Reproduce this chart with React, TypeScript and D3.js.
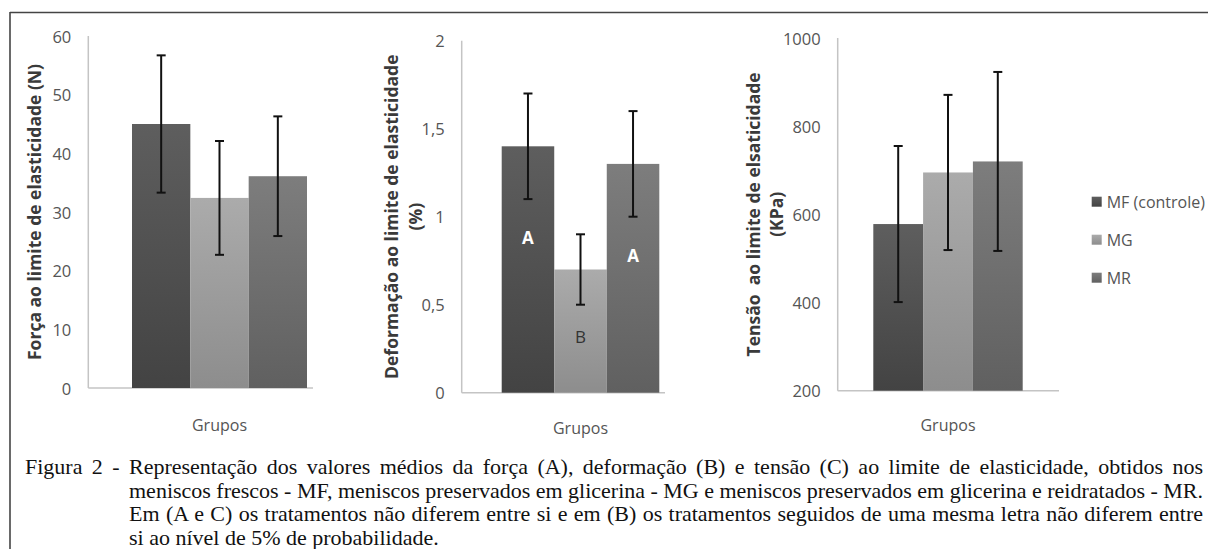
import * as d3 from "d3";
import React, { useEffect, useRef } from "react";

const groups = ["MF (controle)", "MG", "MR"];

// Painel A - força
const forceMeans = [45, 32.4, 36.1];
const forceErr = [11.7, 9.7, 10.2];
const forceTicks = [0, 10, 20, 30, 40, 50, 60];

// Painel B - deformação
const deformMeans = [1.4, 0.7, 1.3];
const deformErr = [0.3, 0.2, 0.3];
const deformTicks = [0, 0.5, 1, 1.5, 2];
const deformLetters = ["A", "B", "A"];
const deformLetterAt = [0.88, 0.32, 0.78];

// Painel C - tensão
const tensionMeans = [578, 695, 720];
const tensionErr = [177, 176, 203];
const tensionTicks = [200, 400, 600, 800, 1000];

const captionLines = [
  "Figura 2 - Representação dos valores médios da força (A), deformação (B) e tensão (C) ao limite de elasticidade, obtidos nos",
  "meniscos frescos - MF, meniscos preservados em glicerina - MG e meniscos preservados em glicerina e reidratados - MR.",
  "Em (A e C) os tratamentos não diferem entre si e em (B) os tratamentos seguidos de uma mesma letra não diferem entre",
  "si ao nível de 5% de probabilidade.",
];

const barFills = [
  ["#5e5e5e", "#434343"],
  ["#ababab", "#8d8d8d"],
  ["#7d7d7d", "#606060"],
];

const sans = "'Open Sans', 'DejaVu Sans', sans-serif";
const fmtComma = (v: number) => String(v).replace(".", ",");

type PanelProps = {
  id: string;
  means: number[];
  errs: number[];
  ticks: number[];
  domain: [number, number];
  axisX: number;
  axisEnd: number;
  barStart: number;
  barEnd: number;
  yTop: number;
  yBottom: number;
  titleLines: string[];
  titleX: number[];
  groupsY: number;
  tickFormat?: (v: number) => string;
  letters?: string[];
  letterAt?: number[];
};

const Panel: React.FC<PanelProps> = (p) => {
  const y = d3.scaleLinear().domain(p.domain).range([p.yBottom, p.yTop]);
  const x = d3.scaleBand().domain(groups).range([p.barStart, p.barEnd]).padding(0);
  const fmt = p.tickFormat ?? ((v: number) => String(v));
  const midY = (p.yTop + p.yBottom) / 2;
  const center = (p.barStart + p.barEnd) / 2;

  return (
    <g>
      <line x1={p.axisX} x2={p.axisX} y1={p.yTop} y2={p.yBottom} stroke="#c4c4c4" strokeWidth={1.5} />
      <line x1={p.axisX} x2={p.axisEnd} y1={p.yBottom} y2={p.yBottom} stroke="#c4c4c4" strokeWidth={1.5} />
      {p.ticks.map((t) => (
        <text
          key={t}
          x={p.axisX - 17}
          y={y(t)}
          textAnchor="end"
          dominantBaseline="central"
          fontFamily={sans}
          fontSize={16.5}
          fill="#555"
        >
          {fmt(t)}
        </text>
      ))}
      {groups.map((g, i) => {
        const bx = x(g)!;
        const v = p.means[i];
        const e = p.errs[i];
        const cx = bx + x.bandwidth() / 2;
        return (
          <g key={g}>
            <rect
              x={bx}
              y={y(v)}
              width={x.bandwidth()}
              height={p.yBottom - y(v)}
              fill={`url(#${p.id}-g${i})`}
            />
            <line x1={cx} x2={cx} y1={y(v + e)} y2={y(v - e)} stroke="#111" strokeWidth={2} />
            <line x1={cx - 4.5} x2={cx + 4.5} y1={y(v + e)} y2={y(v + e)} stroke="#111" strokeWidth={2} />
            <line x1={cx - 4.5} x2={cx + 4.5} y1={y(v - e)} y2={y(v - e)} stroke="#111" strokeWidth={2} />
            {p.letters && p.letterAt && (
              <text
                x={cx}
                y={y(p.letterAt[i])}
                textAnchor="middle"
                dominantBaseline="central"
                fontFamily={sans}
                fontSize={17}
                fontWeight={p.letters[i] === "A" ? 700 : 400}
                fill={p.letters[i] === "A" ? "#fff" : "#333"}
              >
                {p.letters[i]}
              </text>
            )}
          </g>
        );
      })}
      {p.titleLines.map((t, i) => (
        <text
          key={i}
          transform={`translate(${p.titleX[i]},${midY}) rotate(-90)`}
          textAnchor="middle"
          dominantBaseline="central"
          fontFamily={sans}
          fontSize={17.5}
          fontWeight={700}
          fill="#3a3a3a"
          style={{ whiteSpace: "pre" }}
        >
          {t}
        </text>
      ))}
      <text
        x={center}
        y={p.groupsY}
        textAnchor="middle"
        dominantBaseline="central"
        fontFamily={sans}
        fontSize={16}
        fill="#555"
      >
        Grupos
      </text>
    </g>
  );
};

const App: React.FC = () => {
  const captionRef = useRef<SVGGElement>(null);

  // justify caption lines by word spacing
  useEffect(() => {
    if (!captionRef.current) return;
    const nodes = captionRef.current.querySelectorAll<SVGTextElement>("text[data-target]");
    nodes.forEach((n) => {
      const target = Number(n.getAttribute("data-target"));
      const spaces = (n.textContent || "").split(" ").length - 1;
      n.style.wordSpacing = "0px";
      const w = n.getComputedTextLength();
      if (spaces > 0) n.style.wordSpacing = `${(target - w) / spaces}px`;
    });
  }, []);

  const defs = ["A", "B", "C"].flatMap((id) =>
    barFills.map((c, i) => (
      <linearGradient key={`${id}${i}`} id={`${id}-g${i}`} x1="0" y1="0" x2="0" y2="1">
        <stop offset="0%" stopColor={c[0]} />
        <stop offset="100%" stopColor={c[1]} />
      </linearGradient>
    ))
  );

  return (
    <svg width={1208} height={549} style={{ position: "absolute", left: 0, top: 0, background: "#fff" }}>
      <defs>{defs}</defs>
      <line x1={10} x2={1208} y1={12.5} y2={12.5} stroke="#444" strokeWidth={1.6} />
      <line x1={10} x2={10} y1={12} y2={549} stroke="#444" strokeWidth={1.6} />

      <Panel
        id="A"
        means={forceMeans}
        errs={forceErr}
        ticks={forceTicks}
        domain={[0, 60]}
        axisX={88.3}
        axisEnd={313}
        barStart={132}
        barEnd={307}
        yTop={36}
        yBottom={388}
        titleLines={["Força ao limite de elasticidade (N)"]}
        titleX={[34]}
        groupsY={425}
      />
      <Panel
        id="B"
        means={deformMeans}
        errs={deformErr}
        ticks={deformTicks}
        domain={[0, 2]}
        axisX={461.7}
        axisEnd={665}
        barStart={501.7}
        barEnd={659.3}
        yTop={40.7}
        yBottom={392.7}
        titleLines={["Deformação ao limite de elasticidade", "(%)"]}
        titleX={[391, 415]}
        groupsY={428}
        tickFormat={fmtComma}
        letters={deformLetters}
        letterAt={deformLetterAt}
      />
      <Panel
        id="C"
        means={tensionMeans}
        errs={tensionErr}
        ticks={tensionTicks}
        domain={[200, 1000]}
        axisX={837.7}
        axisEnd={1059}
        barStart={873.3}
        barEnd={1022.7}
        yTop={38}
        yBottom={390.7}
        titleLines={["Tensão  ao limite de elsaticidade", "(KPa)"]}
        titleX={[752.5, 776]}
        groupsY={425}
      />

      {groups.map((g, i) => (
        <g key={g} transform={`translate(1091.7,${201.7 + i * 38})`}>
          <rect x={0} y={-5} width={10} height={10} fill={`url(#C-g${i})`} />
          <text x={15} y={0} dominantBaseline="central" fontFamily={sans} fontSize={16} fill="#555">
            {g}
          </text>
        </g>
      ))}

      <g ref={captionRef} fontFamily="'Liberation Serif', 'Times New Roman', serif" fontSize={22} fill="#111">
        {captionLines.map((t, i) => {
          const x0 = i === 0 ? 25 : 129;
          const justify = i < captionLines.length - 1;
          return (
            <text
              key={i}
              x={x0}
              y={474 + i * 23.5}
              data-target={justify ? 1203 - x0 : undefined}
              style={{ whiteSpace: "pre" }}
            >
              {t}
            </text>
          );
        })}
      </g>
    </svg>
  );
};

export default App;
